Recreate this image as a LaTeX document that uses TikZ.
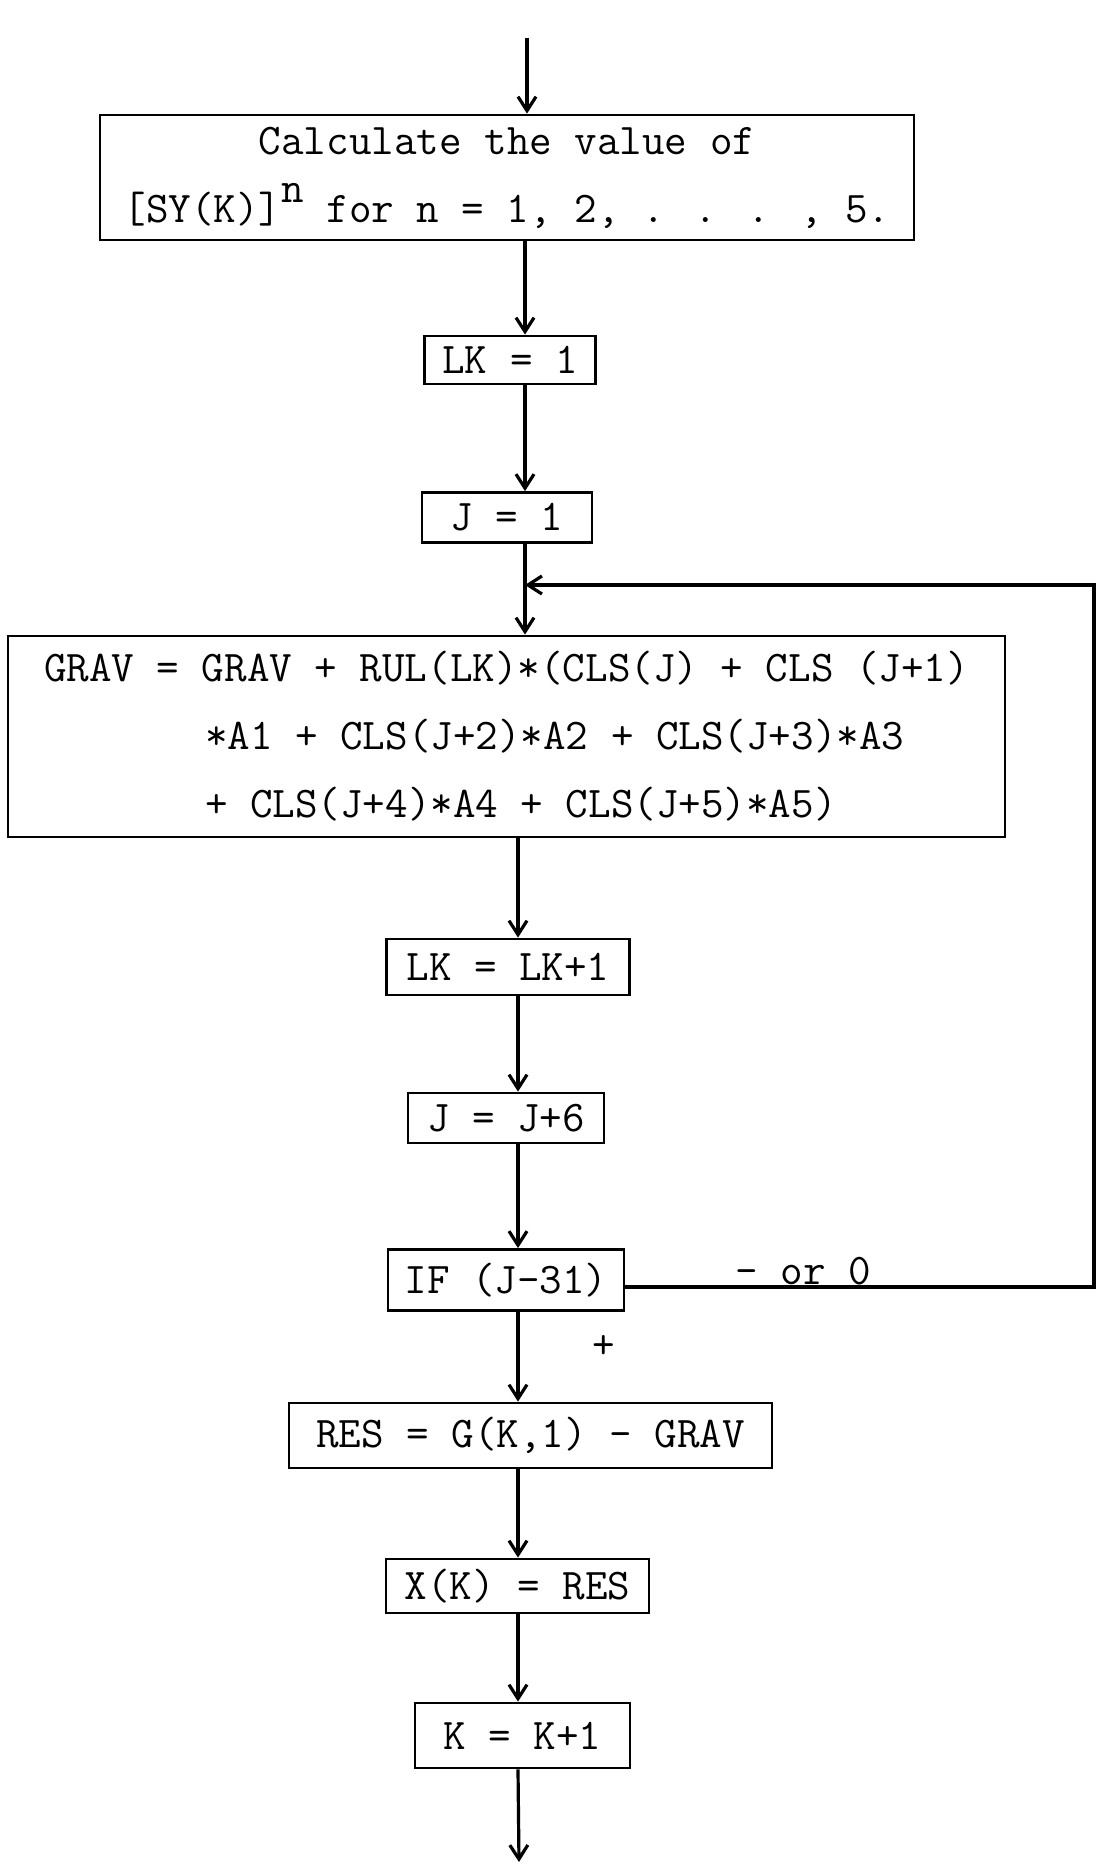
\documentclass[tikz,border=0pt]{standalone}
\usepackage{fontspec}
\usetikzlibrary{arrows.meta}
\begin{document}
\begin{tikzpicture}[x=1pt,y=-1pt,
  box/.style={draw, line width=2.8pt, inner sep=0pt, font=\ttfamily\fontsize{43.8}{68}\selectfont, align=center},
  conn/.style={line width=3.2pt},
  arr/.style={conn, -{Straight Barb[length=14pt,width=18pt]}},
  lbl/.style={font=\ttfamily\fontsize{43.8}{52}\selectfont, inner sep=0pt}]
\useasboundingbox (0,0) rectangle (1098,1864);
% nodes
\node[box, minimum width=814pt, minimum height=125pt] (calc) at (507,177.5)
  {Calculate the value of\\{[}SY(K){]}\raisebox{0.45em}{n} for n = 1, 2, . . . , 5.};
\node[box, minimum width=171pt, minimum height=48pt] (lk1) at (510,360) {LK = 1};
\node[box, minimum width=170pt, minimum height=50pt] (j1) at (507,517.5) {J = 1};
\node[box, align=left, minimum width=997pt, minimum height=201pt] (grav) at (506.5,736.5)
  {GRAV = GRAV + RUL(LK)*(CLS(J) + CLS (J+1)\\\hspace*{3.675em}*A1 + CLS(J+2)*A2 + CLS(J+3)*A3\\\hspace*{3.675em}+ CLS(J+4)*A4 + CLS(J+5)*A5)};
\node[box, minimum width=243pt, minimum height=56pt] (lklk) at (508,967) {LK = LK+1};
\node[box, minimum width=196pt, minimum height=50pt] (jj6) at (506,1118) {J = J+6};
\node[box, minimum width=236pt, minimum height=61pt] (iff) at (506,1280) {IF (J-31)};
\node[box, minimum width=483pt, minimum height=65pt] (res) at (530.5,1435.5) {RES = G(K,1) - GRAV};
\node[box, minimum width=263pt, minimum height=54pt] (xk) at (517.5,1586) {X(K) = RES};
\node[box, minimum width=215pt, minimum height=65pt] (kk) at (522.5,1735.5) {K = K+1};
\node[lbl, anchor=base] (orz) at (803,1284) {- or 0};
\node[lbl] (plus) at (604,1347) {+};
% coordinates
\coordinate (sA) at (525,0);
\coordinate (sB) at (518,0);
\coordinate (topin) at (527,38);
\coordinate (botout) at (519,1862);
\coordinate (fb1) at (1094,1287);
\coordinate (fb2) at (1094,585);
\coordinate (jn) at (525,585);
% connectors
\draw[arr] (topin) -- (calc.north -| topin);
\draw[arr] (calc.south -| sA) -- (lk1.north -| sA);
\draw[arr] (lk1.south -| sA) -- (j1.north -| sA);
\draw[arr] (j1.south -| sA) -- (grav.north -| sA);
\draw[arr] (grav.south -| sB) -- (lklk.north -| sB);
\draw[arr] (lklk.south -| sB) -- (jj6.north -| sB);
\draw[arr] (jj6.south -| sB) -- (iff.north -| sB);
\draw[arr] (iff.south -| sB) -- (res.north -| sB);
\draw[arr] (res.south -| sB) -- (xk.north -| sB);
\draw[arr] (xk.south -| sB) -- (kk.north -| sB);
\draw[arr] (kk.south -| sB) -- (botout);
\draw[arr] (iff.east |- fb1) -- (fb1) -- (fb2) -- (jn);
\end{tikzpicture}
\end{document}
